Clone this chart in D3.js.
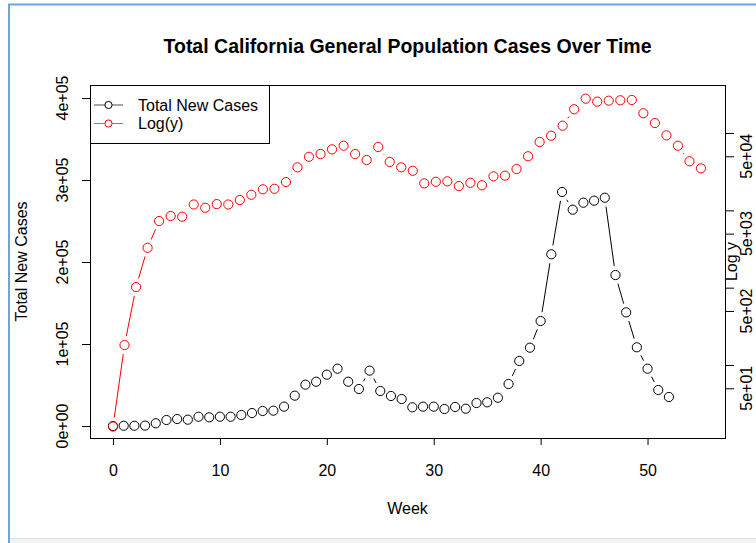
<!DOCTYPE html>
<html>
<head>
<meta charset="utf-8">
<script src="https://cdn.jsdelivr.net/npm/d3@7"></script>
<style>
    html, body { margin: 0; padding: 0; background: #fff; }
    svg { display: block; font-family: "Liberation Sans", Arial, Helvetica, sans-serif; }
</style>
</head>
<body>
<div id="chart"></div>
<script>
// Weekly new cases (black series), week 0..52
const totalNewCases = [
    0, 300, 300, 500, 3300, 7300, 8500, 7700, 11300, 10600,
    11300, 11300, 13400, 15800, 18300, 18700, 23600, 37000, 50400, 54000,
    62600, 69900, 54000, 45100, 67500, 42700, 36600, 32900, 22800, 23600,
    23600, 20700, 23200, 21100, 28000, 28900, 34500, 51200, 79300, 95500,
    128000, 209400, 285400, 263800, 272300, 274800, 278400, 184100, 138600, 96000,
    69900, 43900, 35400
];

// Same counts on the log axis (red series), own index 0..51
const logCases = [
    16, 181, 1018, 3280, 7270, 8440, 8270, 11900, 10800, 12050,
    11900, 13600, 15900, 18700, 19000, 23200, 36000, 49300, 53500, 61500,
    68500, 53500, 44700, 65900, 42200, 36000, 32500, 22300, 23400, 23700,
    20600, 22700, 21100, 27500, 28100, 34200, 50000, 76600, 92300, 124200,
    202700, 277900, 254400, 261800, 264800, 267300, 179900, 134600, 93300, 68500,
    43100, 34900
];

const xTicks = [0, 10, 20, 30, 40, 50];
const leftTicks = [0, 100000, 200000, 300000, 400000];
const leftTickLabels = ["0e+00", "1e+05", "2e+05", "3e+05", "4e+05"];
const rightTicks = [50, 100, 500, 1000, 5000, 10000, 50000, 100000];
const rightLabelTicks = [50, 500, 5000, 50000];
const rightTickLabels = ["5e+01", "5e+02", "5e+03", "5e+04"];
const legendLabels = ["Total New Cases", "Log(y)"];
const legendColors = ["#000", "#ff0000"];

function drawChart() {
    const W = 756, H = 543;
    const box = { left: 90, right: 725, top: 85, bottom: 438 };
    const fs = "16px";

    const svg = d3.select("#chart").append("svg")
        .attr("width", W)
        .attr("height", H);

    // page chrome around the plot image
    svg.append("rect").attr("x", 0).attr("y", 0).attr("width", W).attr("height", H).attr("fill", "#fff");
    svg.append("rect").attr("x", 10).attr("y", 538).attr("width", W - 10).attr("height", 5).attr("fill", "#f3f4f6");
    svg.append("line").attr("x1", 10).attr("x2", W).attr("y1", 538.5).attr("y2", 538.5).attr("stroke", "#dcdde0");
    svg.append("path")
        .attr("d", `M9,${H} V4.5 H${W}`)
        .attr("fill", "none")
        .attr("stroke", "#6fa3dc")
        .attr("stroke-width", 2);

    // scales (R style: data range padded 4% each side)
    const x = d3.scaleLinear().domain([0, 55]).range([113, 701]);
    const xRed = d3.scaleLinear().domain([0, logCases.length - 1]).range([113, 701]);
    const yLeft = d3.scaleLinear().domain([0, 400000]).range([426, 98]);
    const yRight = d3.scaleLog().domain([100, 100000]).range([365, 133]);

    // title
    svg.append("text")
        .attr("x", (box.left + box.right) / 2)
        .attr("y", 53)
        .attr("text-anchor", "middle")
        .style("font-size", "19.5px")
        .style("font-weight", "bold")
        .text("Total California General Population Cases Over Time");

    // bottom axis
    const xAxis = svg.append("g")
        .attr("transform", `translate(0,${box.bottom})`)
        .call(d3.axisBottom(x).tickValues(xTicks).tickSize(7).tickPadding(31).tickFormat(d3.format("d")));
    xAxis.select(".domain").remove();
    xAxis.selectAll("line").attr("stroke", "#000");
    xAxis.selectAll("text").style("font-size", fs).attr("fill", "#000").attr("dy", "0");

    svg.append("line")
        .attr("x1", x(xTicks[0])).attr("x2", x(xTicks[xTicks.length - 1]))
        .attr("y1", box.bottom + 0.5).attr("y2", box.bottom + 0.5)
        .attr("stroke", "#000");

    svg.append("text")
        .attr("x", (box.left + box.right) / 2)
        .attr("y", 514)
        .attr("text-anchor", "middle")
        .style("font-size", fs)
        .text("Week");

    // left axis
    const yAxisL = svg.append("g")
        .attr("transform", `translate(${box.left},0)`)
        .call(d3.axisLeft(yLeft).tickValues(leftTicks).tickSize(8).tickFormat((d, i) => leftTickLabels[i]));
    yAxisL.select(".domain").remove();
    yAxisL.selectAll("line").attr("stroke", "#000");
    yAxisL.selectAll("text")
        .style("font-size", fs)
        .attr("fill", "#000")
        .attr("x", null).attr("dy", null)
        .attr("text-anchor", "middle")
        .attr("transform", d => `translate(-22,${yLeft(d)}) rotate(-90)`)
        .attr("y", 0);
    yAxisL.selectAll(".tick").attr("transform", null);
    yAxisL.selectAll(".tick line").attr("y1", d => yLeft(d) + 0.5).attr("y2", d => yLeft(d) + 0.5);

    svg.append("text")
        .attr("transform", `translate(27,${(box.top + box.bottom) / 2}) rotate(-90)`)
        .attr("text-anchor", "middle")
        .style("font-size", fs)
        .text("Total New Cases");

    // right axis (log)
    const yAxisR = svg.append("g")
        .attr("transform", `translate(${box.right},0)`)
        .call(d3.axisRight(yRight).tickValues(rightTicks).tickSize(9).tickFormat(""));
    yAxisR.select(".domain").remove();
    yAxisR.selectAll("line").attr("stroke", "#000");

    svg.append("g").selectAll("text")
        .data(rightLabelTicks)
        .join("text")
        .attr("transform", d => `translate(752,${yRight(d)}) rotate(-90)`)
        .attr("text-anchor", "middle")
        .style("font-size", fs)
        .text((d, i) => rightTickLabels[i]);

    svg.append("text")
        .attr("transform", `translate(737,${(box.top + box.bottom) / 2}) rotate(-90)`)
        .attr("text-anchor", "middle")
        .style("font-size", fs)
        .text("Log y");

    // plot box
    svg.append("rect")
        .attr("x", box.left + 0.5).attr("y", box.top + 0.5)
        .attr("width", box.right - box.left).attr("height", box.bottom - box.top)
        .attr("fill", "none")
        .attr("stroke", "#000");

    // R type="b": segments with gaps around the points
    const gap = 9;
    function drawSeries(pts, color) {
        const segs = [];
        for (let i = 1; i < pts.length; i++) {
            const [x0, y0] = pts[i - 1], [x1, y1] = pts[i];
            const d = Math.hypot(x1 - x0, y1 - y0);
            if (d <= 2 * gap) continue;
            const ux = (x1 - x0) / d, uy = (y1 - y0) / d;
            segs.push([x0 + ux * gap, y0 + uy * gap, x1 - ux * gap, y1 - uy * gap]);
        }
        const g = svg.append("g");
        g.selectAll("line")
            .data(segs)
            .join("line")
            .attr("x1", s => s[0]).attr("y1", s => s[1])
            .attr("x2", s => s[2]).attr("y2", s => s[3])
            .attr("stroke", color);
        g.selectAll("circle")
            .data(pts)
            .join("circle")
            .attr("cx", p => p[0]).attr("cy", p => p[1])
            .attr("r", 4.6)
            .attr("fill", "none")
            .attr("stroke", color);
    }

    drawSeries(totalNewCases.map((v, i) => [x(i), yLeft(v)]), legendColors[0]);
    drawSeries(logCases.map((v, i) => [xRed(i), yRight(v)]), legendColors[1]);

    // legend
    const legend = svg.append("g");
    legend.append("rect")
        .attr("x", box.left + 0.5).attr("y", box.top + 0.5)
        .attr("width", 179).attr("height", 58)
        .attr("fill", "#fff")
        .attr("stroke", "#000");
    legendLabels.forEach((label, i) => {
        const ly = 105 + i * 18.5;
        legend.append("line")
            .attr("x1", 94).attr("x2", 123)
            .attr("y1", ly).attr("y2", ly)
            .attr("stroke", legendColors[i])
            .attr("stroke-opacity", 0.7);
        legend.append("circle")
            .attr("cx", 108.5).attr("cy", ly).attr("r", 3.6)
            .attr("fill", "#fff")
            .attr("stroke", legendColors[i]);
        legend.append("text")
            .attr("x", 138).attr("y", ly)
            .attr("dy", "0.36em")
            .style("font-size", fs)
            .text(label);
    });
}

drawChart();
</script>
</body>
</html>
